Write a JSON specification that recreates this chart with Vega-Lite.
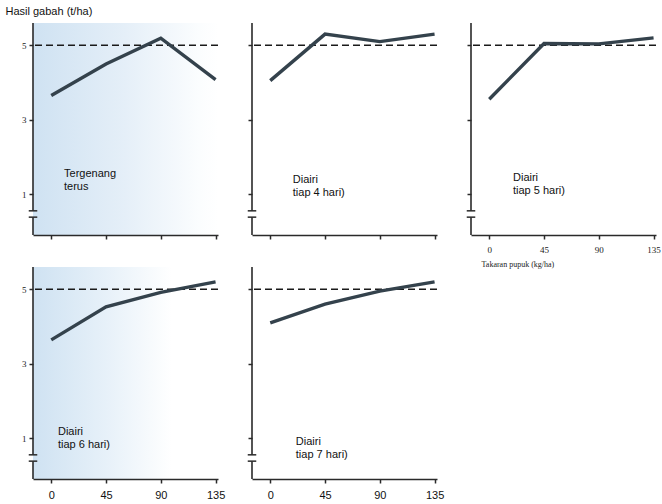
{
  "$schema": "https://vega.github.io/schema/vega-lite/v6.json",
  "padding": {"left": 5, "top": 5, "right": 5, "bottom": 0},
  "background": "white",
  "config": {
    "view": {"stroke": null},
    "font": "Liberation Sans",
    "axis": {"domainColor": "#2a2a2a", "domainWidth": 1.6, "tickColor": "#2a2a2a", "tickWidth": 1.5, "tickSize": 4, "grid": false, "labelColor": "#222"}
  },
  "datasets": {
    "yields": [
      {"panel": "p1", "dose": 0, "yield": 3.65},
      {"panel": "p1", "dose": 45, "yield": 4.5},
      {"panel": "p1", "dose": 90, "yield": 5.19},
      {"panel": "p1", "dose": 135, "yield": 4.08},
      {"panel": "p2", "dose": 0, "yield": 4.05},
      {"panel": "p2", "dose": 45, "yield": 5.3},
      {"panel": "p2", "dose": 90, "yield": 5.1},
      {"panel": "p2", "dose": 135, "yield": 5.3},
      {"panel": "p3", "dose": 0, "yield": 3.55},
      {"panel": "p3", "dose": 45, "yield": 5.05},
      {"panel": "p3", "dose": 90, "yield": 5.04},
      {"panel": "p3", "dose": 135, "yield": 5.2},
      {"panel": "p4", "dose": 0, "yield": 3.64},
      {"panel": "p4", "dose": 45, "yield": 4.53},
      {"panel": "p4", "dose": 90, "yield": 4.92},
      {"panel": "p4", "dose": 135, "yield": 5.2},
      {"panel": "p5", "dose": 0, "yield": 4.1},
      {"panel": "p5", "dose": 45, "yield": 4.6},
      {"panel": "p5", "dose": 90, "yield": 4.95},
      {"panel": "p5", "dose": 135, "yield": 5.2}
    ],
    "one": [{}]
  },
  "columns": 3,
  "spacing": {"column": 34, "row": 32},
  "bounds": "flush",
  "align": "all",
  "concat": [
    {
      "width": 185, "height": 212,
      "view": {"stroke": null, "fill": {"gradient": "linear", "x1": 0, "x2": 1, "y1": 0, "y2": 0, "stops": [{"offset": 0, "color": "#cfe2f2"}, {"offset": 0.5, "color": "#e5eff8"}, {"offset": 0.9, "color": "#fbfdfe"}, {"offset": 1, "color": "#ffffff"}]}},
      "data": {"name": "yields"},
      "transform": [{"filter": "datum.panel === 'p1'"}],
      "layer": [
        {"mark": {"type": "rule", "strokeDash": [7, 4], "color": "#1a1a1a", "strokeWidth": 1.5}, "data": {"name": "one"}, "encoding": {"y": {"datum": 5}}},
        {"mark": {"type": "line", "color": "#34424c", "strokeWidth": 3.4},
         "encoding": {
           "x": {"field": "dose", "type": "quantitative", "scale": {"domain": [-15, 137], "nice": false}, "axis": {"values": [0, 45, 90, 135], "labels": false, "title": null}},
           "y": {"field": "yield", "type": "quantitative", "scale": {"domain": [-0.1, 5.6], "nice": false}, "axis": {"values": [1, 3, 5], "domain": false, "labelFont": "Liberation Serif", "labelFontSize": 9, "labelPadding": 3, "title": "Hasil gabah (t/ha)", "titleAngle": 0, "titleAlign": "left", "titleBaseline": "middle", "titleX": -28, "titleY": -12, "titleFont": "Liberation Sans", "titleFontSize": 11, "titleFontWeight": "normal", "titleColor": "#111"}}
         }},
        {"mark": {"type": "rule", "color": "#2a2a2a", "strokeWidth": 1.6}, "data": {"name": "one"}, "encoding": {"x": {"datum": -15}, "y": {"datum": 5.6}, "y2": {"datum": 0.55}}},
        {"mark": {"type": "rule", "color": "#2a2a2a", "strokeWidth": 1.6}, "data": {"name": "one"}, "encoding": {"x": {"datum": -15}, "y": {"datum": 0.38}, "y2": {"datum": -0.1}}},
        {"mark": {"type": "rule", "color": "#2a2a2a", "strokeWidth": 1.5}, "data": {"name": "one"}, "encoding": {"x": {"datum": -18.5}, "x2": {"datum": -11.5}, "y": {"datum": 0.55}}},
        {"mark": {"type": "rule", "color": "#2a2a2a", "strokeWidth": 1.5}, "data": {"name": "one"}, "encoding": {"x": {"datum": -18.5}, "x2": {"datum": -11.5}, "y": {"datum": 0.38}}},
        {"mark": {"type": "text", "align": "left", "baseline": "top", "fontSize": 11, "lineHeight": 13, "color": "#111"}, "data": {"name": "one"}, "encoding": {"x": {"datum": 10.5}, "y": {"datum": 1.7}, "text": {"value": ["Tergenang", "terus"]}}}
      ]
    },
    {
      "width": 185, "height": 212,
      "data": {"name": "yields"},
      "transform": [{"filter": "datum.panel === 'p2'"}],
      "layer": [
        {"mark": {"type": "rule", "strokeDash": [7, 4], "color": "#1a1a1a", "strokeWidth": 1.5}, "data": {"name": "one"}, "encoding": {"y": {"datum": 5}}},
        {"mark": {"type": "line", "color": "#34424c", "strokeWidth": 3.4},
         "encoding": {
           "x": {"field": "dose", "type": "quantitative", "scale": {"domain": [-15, 137], "nice": false}, "axis": {"values": [0, 45, 90, 135], "labels": false, "title": null}},
           "y": {"field": "yield", "type": "quantitative", "scale": {"domain": [-0.1, 5.6], "nice": false}, "axis": {"values": [1, 3, 5], "domain": false, "labels": false, "title": null}}
         }},
        {"mark": {"type": "rule", "color": "#2a2a2a", "strokeWidth": 1.6}, "data": {"name": "one"}, "encoding": {"x": {"datum": -15}, "y": {"datum": 5.6}, "y2": {"datum": 0.55}}},
        {"mark": {"type": "rule", "color": "#2a2a2a", "strokeWidth": 1.6}, "data": {"name": "one"}, "encoding": {"x": {"datum": -15}, "y": {"datum": 0.38}, "y2": {"datum": -0.1}}},
        {"mark": {"type": "rule", "color": "#2a2a2a", "strokeWidth": 1.5}, "data": {"name": "one"}, "encoding": {"x": {"datum": -18.5}, "x2": {"datum": -11.5}, "y": {"datum": 0.55}}},
        {"mark": {"type": "rule", "color": "#2a2a2a", "strokeWidth": 1.5}, "data": {"name": "one"}, "encoding": {"x": {"datum": -18.5}, "x2": {"datum": -11.5}, "y": {"datum": 0.38}}},
        {"mark": {"type": "text", "align": "left", "baseline": "top", "fontSize": 11, "lineHeight": 13, "color": "#111"}, "data": {"name": "one"}, "encoding": {"x": {"datum": 18.5}, "y": {"datum": 1.54}, "text": {"value": ["Diairi", "tiap 4 hari)"]}}}
      ]
    },
    {
      "width": 185, "height": 212,
      "data": {"name": "yields"},
      "transform": [{"filter": "datum.panel === 'p3'"}],
      "layer": [
        {"mark": {"type": "rule", "strokeDash": [7, 4], "color": "#1a1a1a", "strokeWidth": 1.5}, "data": {"name": "one"}, "encoding": {"y": {"datum": 5}}},
        {"mark": {"type": "line", "color": "#34424c", "strokeWidth": 3.4},
         "encoding": {
           "x": {"field": "dose", "type": "quantitative", "scale": {"domain": [-15, 137], "nice": false}, "axis": {"values": [0, 45, 90, 135], "labelFont": "Liberation Serif", "labelFontSize": 9, "labelPadding": 6, "labelColor": "#222", "title": "Takaran pupuk (kg/ha)", "titleFont": "Liberation Serif", "titleFontSize": 8, "titleFontWeight": "normal", "titleColor": "#222", "titleAnchor": "start", "titleAlign": "left", "titleX": 10, "titlePadding": 6}},
           "y": {"field": "yield", "type": "quantitative", "scale": {"domain": [-0.1, 5.6], "nice": false}, "axis": {"values": [1, 3, 5], "domain": false, "labels": false, "title": null}}
         }},
        {"mark": {"type": "rule", "color": "#2a2a2a", "strokeWidth": 1.6}, "data": {"name": "one"}, "encoding": {"x": {"datum": -15}, "y": {"datum": 5.6}, "y2": {"datum": 0.55}}},
        {"mark": {"type": "rule", "color": "#2a2a2a", "strokeWidth": 1.6}, "data": {"name": "one"}, "encoding": {"x": {"datum": -15}, "y": {"datum": 0.38}, "y2": {"datum": -0.1}}},
        {"mark": {"type": "rule", "color": "#2a2a2a", "strokeWidth": 1.5}, "data": {"name": "one"}, "encoding": {"x": {"datum": -18.5}, "x2": {"datum": -11.5}, "y": {"datum": 0.55}}},
        {"mark": {"type": "rule", "color": "#2a2a2a", "strokeWidth": 1.5}, "data": {"name": "one"}, "encoding": {"x": {"datum": -18.5}, "x2": {"datum": -11.5}, "y": {"datum": 0.38}}},
        {"mark": {"type": "text", "align": "left", "baseline": "top", "fontSize": 11, "lineHeight": 13, "color": "#111"}, "data": {"name": "one"}, "encoding": {"x": {"datum": 19.5}, "y": {"datum": 1.59}, "text": {"value": ["Diairi", "tiap 5 hari)"]}}}
      ]
    },
    {
      "width": 185, "height": 212,
      "view": {"stroke": null, "fill": {"gradient": "linear", "x1": 0, "x2": 1, "y1": 0, "y2": 0, "stops": [{"offset": 0, "color": "#cfe2f2"}, {"offset": 0.4, "color": "#e7f1f9"}, {"offset": 0.75, "color": "#ffffff"}, {"offset": 1, "color": "#ffffff"}]}},
      "data": {"name": "yields"},
      "transform": [{"filter": "datum.panel === 'p4'"}],
      "layer": [
        {"mark": {"type": "rule", "strokeDash": [7, 4], "color": "#1a1a1a", "strokeWidth": 1.5}, "data": {"name": "one"}, "encoding": {"y": {"datum": 5}}},
        {"mark": {"type": "line", "color": "#34424c", "strokeWidth": 3.4},
         "encoding": {
           "x": {"field": "dose", "type": "quantitative", "scale": {"domain": [-15, 137], "nice": false}, "axis": {"values": [0, 45, 90, 135], "labelFont": "Liberation Sans", "labelFontSize": 11, "labelPadding": 6, "labelColor": "#111", "title": null}},
           "y": {"field": "yield", "type": "quantitative", "scale": {"domain": [-0.1, 5.6], "nice": false}, "axis": {"values": [1, 3, 5], "domain": false, "labelFont": "Liberation Serif", "labelFontSize": 9, "labelPadding": 3, "title": null}}
         }},
        {"mark": {"type": "rule", "color": "#2a2a2a", "strokeWidth": 1.6}, "data": {"name": "one"}, "encoding": {"x": {"datum": -15}, "y": {"datum": 5.6}, "y2": {"datum": 0.55}}},
        {"mark": {"type": "rule", "color": "#2a2a2a", "strokeWidth": 1.6}, "data": {"name": "one"}, "encoding": {"x": {"datum": -15}, "y": {"datum": 0.38}, "y2": {"datum": -0.1}}},
        {"mark": {"type": "rule", "color": "#2a2a2a", "strokeWidth": 1.5}, "data": {"name": "one"}, "encoding": {"x": {"datum": -18.5}, "x2": {"datum": -11.5}, "y": {"datum": 0.55}}},
        {"mark": {"type": "rule", "color": "#2a2a2a", "strokeWidth": 1.5}, "data": {"name": "one"}, "encoding": {"x": {"datum": -18.5}, "x2": {"datum": -11.5}, "y": {"datum": 0.38}}},
        {"mark": {"type": "text", "align": "left", "baseline": "top", "fontSize": 11, "lineHeight": 13, "color": "#111"}, "data": {"name": "one"}, "encoding": {"x": {"datum": 5.5}, "y": {"datum": 1.32}, "text": {"value": ["Diairi", "tiap 6 hari)"]}}}
      ]
    },
    {
      "width": 185, "height": 212,
      "data": {"name": "yields"},
      "transform": [{"filter": "datum.panel === 'p5'"}],
      "layer": [
        {"mark": {"type": "rule", "strokeDash": [7, 4], "color": "#1a1a1a", "strokeWidth": 1.5}, "data": {"name": "one"}, "encoding": {"y": {"datum": 5}}},
        {"mark": {"type": "line", "color": "#34424c", "strokeWidth": 3.4},
         "encoding": {
           "x": {"field": "dose", "type": "quantitative", "scale": {"domain": [-15, 137], "nice": false}, "axis": {"values": [0, 45, 90, 135], "labelFont": "Liberation Sans", "labelFontSize": 11, "labelPadding": 6, "labelColor": "#111", "title": null}},
           "y": {"field": "yield", "type": "quantitative", "scale": {"domain": [-0.1, 5.6], "nice": false}, "axis": {"values": [1, 3, 5], "domain": false, "labels": false, "title": null}}
         }},
        {"mark": {"type": "rule", "color": "#2a2a2a", "strokeWidth": 1.6}, "data": {"name": "one"}, "encoding": {"x": {"datum": -15}, "y": {"datum": 5.6}, "y2": {"datum": 0.55}}},
        {"mark": {"type": "rule", "color": "#2a2a2a", "strokeWidth": 1.6}, "data": {"name": "one"}, "encoding": {"x": {"datum": -15}, "y": {"datum": 0.38}, "y2": {"datum": -0.1}}},
        {"mark": {"type": "rule", "color": "#2a2a2a", "strokeWidth": 1.5}, "data": {"name": "one"}, "encoding": {"x": {"datum": -18.5}, "x2": {"datum": -11.5}, "y": {"datum": 0.55}}},
        {"mark": {"type": "rule", "color": "#2a2a2a", "strokeWidth": 1.5}, "data": {"name": "one"}, "encoding": {"x": {"datum": -18.5}, "x2": {"datum": -11.5}, "y": {"datum": 0.38}}},
        {"mark": {"type": "text", "align": "left", "baseline": "top", "fontSize": 11, "lineHeight": 13, "color": "#111"}, "data": {"name": "one"}, "encoding": {"x": {"datum": 21}, "y": {"datum": 1.06}, "text": {"value": ["Diairi", "tiap 7 hari)"]}}}
      ]
    }
  ]
}
